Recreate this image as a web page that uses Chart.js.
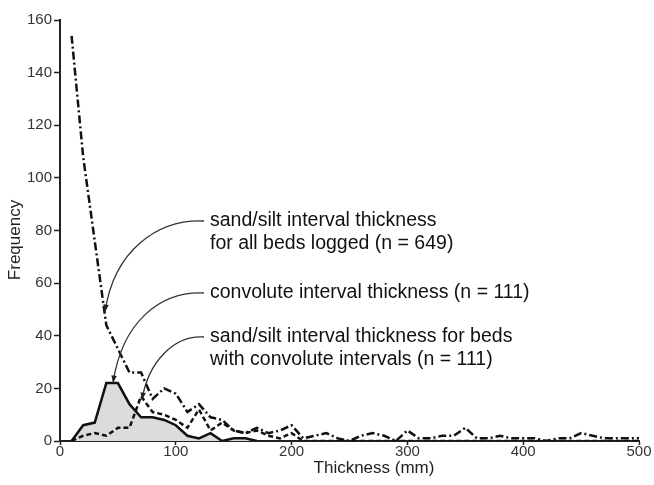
<!DOCTYPE html>
<html>
<head>
<meta charset="utf-8">
<script src="https://cdn.jsdelivr.net/npm/chart.js@4.4.1/dist/chart.umd.min.js"></script>
<style>
  html, body { margin: 0; padding: 0; background: #fff; }
  #wrap { width: 654px; height: 485px; }
</style>
</head>
<body>
<div id="wrap"><canvas id="freqChart" width="654" height="485"></canvas></div>
<script>
// bin thickness (mm)
const thickness = [10, 20, 30, 40, 50, 60, 70, 80, 90, 100,
                   110, 120, 130, 140, 150, 160, 170, 180, 190, 200,
                   210, 220, 230, 240, 250, 260, 270, 280, 290, 300,
                   310, 320, 330, 340, 350, 360, 370, 380, 390, 400,
                   410, 420, 430, 440, 450, 460, 470, 480, 490, 500];

// sand/silt interval thickness, all beds logged (n = 649)
const allBeds = [154, 108, 76, 44, 35, 26, 26, 16, 20, 18,
                 11, 14, 9, 8, 4, 3, 5, 3, 4, 6,
                 1, 2, 3, 1, 0, 2, 3, 2, 0, 4,
                 1, 1, 2, 2, 5, 1, 1, 2, 1, 1,
                 1, 0, 1, 1, 3, 2, 1, 1, 1, 1];

// convolute interval thickness (n = 111)
const convolute = [0, 6, 7, 22, 22, 14, 9, 9, 8, 6,
                   2, 1, 3, 0, 1, 1, 0];

// sand/silt interval thickness, beds with convolute intervals (n = 111)
const convoluteBeds = [0, 2, 3, 2, 5, 5, 17, 11, 10, 8,
                       5, 12, 4, 7, 4, 3, 4, 2, 1, 3,
                       0, 0, 0, 0, 0, 0, 0, 0, 0, 0,
                       0, 0, 0, 0, 0, 0, 0, 0, 0, 0,
                       0, 0, 0, 0, 0, 0, 0, 0, 0, 0];

const xTicks = [0, 100, 200, 300, 400, 500];
const yTicks = [0, 20, 40, 60, 80, 100, 120, 140, 160];

const labels = [
    { lines: ['sand/silt interval thickness', 'for all beds logged (n = 649)'], y: 221,
      curve: [[204, 221], [158, 219], [114, 250], [105, 312]] },
    { lines: ['convolute interval thickness (n = 111)'], y: 293,
      curve: [[204, 293], [160, 291], [122, 322], [113, 383]] },
    { lines: ['sand/silt interval thickness for beds', 'with convolute intervals (n = 111)'], y: 337,
      curve: [[204, 337], [174, 335], [148, 362], [142, 400]] }
];

function pts(vals) {
    return vals.map((v, i) => ({ x: thickness[i], y: v }));
}

const annotate = {
    id: 'annotate',
    afterDraw(chart) {
        const ctx = chart.ctx;
        const font = '"Liberation Sans", Arial, sans-serif';
        ctx.save();
        // axis titles
        ctx.fillStyle = '#222';
        ctx.font = '17px ' + font;
        ctx.textAlign = 'center';
        ctx.textBaseline = 'middle';
        ctx.fillText('Thickness (mm)', 374, 468);
        ctx.save();
        ctx.translate(15, 240);
        ctx.rotate(-Math.PI / 2);
        ctx.fillText('Frequency', 0, 0);
        ctx.restore();

        // callouts
        ctx.font = '19.5px ' + font;
        ctx.textAlign = 'left';
        labels.forEach(l => {
            ctx.fillStyle = '#111';
            l.lines.forEach((t, i) => ctx.fillText(t, 210, l.y + i * 23));
            const c = l.curve;
            ctx.strokeStyle = '#333';
            ctx.lineWidth = 1.3;
            ctx.beginPath();
            ctx.moveTo(c[0][0], c[0][1]);
            ctx.bezierCurveTo(c[1][0], c[1][1], c[2][0], c[2][1], c[3][0], c[3][1]);
            ctx.stroke();
            const ang = Math.atan2(c[3][1] - c[2][1], c[3][0] - c[2][0]);
            ctx.fillStyle = '#222';
            ctx.beginPath();
            ctx.moveTo(c[3][0], c[3][1]);
            ctx.lineTo(c[3][0] - 8 * Math.cos(ang - 0.35), c[3][1] - 8 * Math.sin(ang - 0.35));
            ctx.lineTo(c[3][0] - 8 * Math.cos(ang + 0.35), c[3][1] - 8 * Math.sin(ang + 0.35));
            ctx.closePath();
            ctx.fill();
        });
        ctx.restore();
    }
};

const tickFont = { family: '"Liberation Sans", Arial, sans-serif', size: 15 };

new Chart(document.getElementById('freqChart').getContext('2d'), {
    type: 'line',
    data: {
        datasets: [{
            label: 'sand/silt interval thickness for all beds logged (n = 649)',
            data: pts(allBeds),
            borderColor: '#111',
            borderWidth: 2.5,
            borderDash: [8, 3, 2, 3],
            pointRadius: 0,
            fill: false
        }, {
            label: 'sand/silt interval thickness for beds with convolute intervals (n = 111)',
            data: pts(convoluteBeds),
            borderColor: '#111',
            borderWidth: 2.5,
            borderDash: [5, 3],
            pointRadius: 0,
            fill: false
        }, {
            label: 'convolute interval thickness (n = 111)',
            data: pts(convolute),
            borderColor: '#111',
            borderWidth: 2.5,
            backgroundColor: '#dcdcdc',
            pointRadius: 0,
            fill: 'origin'
        }]
    },
    options: {
        responsive: false,
        animation: false,
        layout: { padding: { left: 0, right: 15, top: 20, bottom: 0 } },
        plugins: { legend: { display: false }, tooltip: { enabled: false } },
        scales: {
            x: {
                type: 'linear',
                min: 0,
                max: 500,
                afterBuildTicks: s => { s.ticks = xTicks.map(v => ({ value: v })); },
                afterFit: s => { s.height = 44; },
                ticks: { color: '#333', font: tickFont, padding: -2 },
                grid: { drawOnChartArea: false, tickLength: 4, tickColor: '#222', tickWidth: 1.5 },
                border: { color: '#222', width: 2 }
            },
            y: {
                min: 0,
                max: 160,
                afterBuildTicks: s => { s.ticks = yTicks.map(v => ({ value: v })); },
                afterFit: s => { s.width = 60; },
                ticks: { color: '#333', font: tickFont, padding: 2 },
                grid: { drawOnChartArea: false, tickLength: 6, tickColor: '#222', tickWidth: 1.5 },
                border: { color: '#222', width: 2 }
            }
        }
    },
    plugins: [annotate]
});
</script>
</body>
</html>
